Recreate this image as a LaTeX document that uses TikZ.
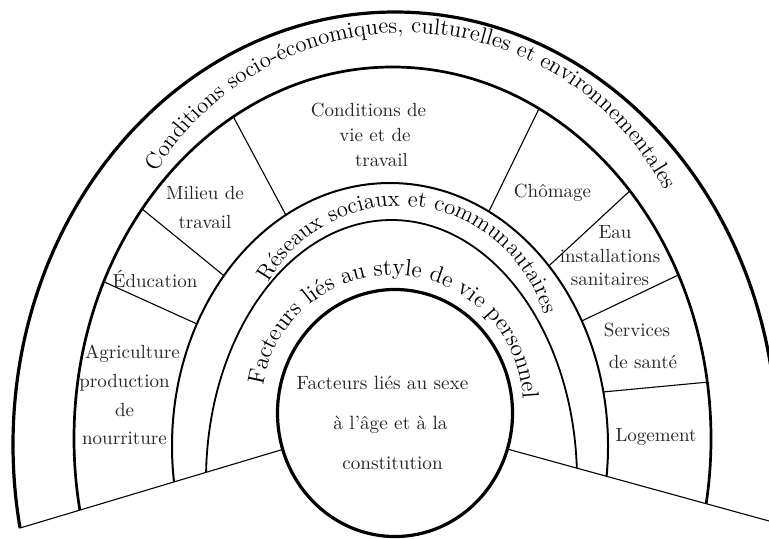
\documentclass[tikz,border=0pt]{standalone}
\usepackage{fontspec}
\usetikzlibrary{decorations.text,intersections,calc}
\newcommand\bandfont{\fontsize{11.4}{13}\selectfont}
\newcommand\bandfontb{\fontsize{11.8}{13}\selectfont}
\begin{document}
\begin{tikzpicture}[x=0.5pt,y=0.5pt,
  thinline/.style={line width=0.55pt},
  sector/.style={text=black!85, font=\fontsize{9.5}{14.35}\selectfont, align=center, inner sep=0pt},
  bandtext/.style={decorate, decoration={text along path, text align=center, text={|\bandfont|#1}}},
  bandtextb/.style={decorate, decoration={text along path, text align=center, text={|\bandfontb|#1}}}
]
\useasboundingbox (0,0) rectangle (769,538);
\fill[white] (0,0) rectangle (769,538);

\coordinate (G) at (391,121);
\coordinate (L) at (20,10);
\coordinate (R) at (820,3);
\coordinate (C0) at (391,126);

% ground lines
\draw[thinline] (G) -- (L);
\draw[thinline] (G) -- (R);

% bands
\begin{scope}
  \clip (G) -- (-20,-2) -- (-20,600) -- (820,600) -- (R) -- cycle;
  \draw[line width=1.6pt] (395,93.3) ellipse [x radius=382, y radius=432.7];
  \draw[line width=1.35pt] (392.5,99.3) ellipse [x radius=318.5, y radius=371.7];
  \draw[line width=1pt] (390,92) ellipse [x radius=218, y radius=263];
  \draw[line width=0.9pt] (391.5,58) ellipse [x radius=185.5, y radius=260];
\end{scope}

% sector dividers
\path[name path=etwo] (390,92) ellipse [x radius=218, y radius=263];
\path[name path=ethree] (392.5,99.3) ellipse [x radius=318.5, y radius=371.7];
\foreach \a [count=\i] in {155.6,140.8,118.1,64,42.8,25.5,5.4}{
  \path[name path=ray] (C0) -- ++(\a:420);
  \path[name intersections={of=etwo and ray, by={a\i}}];
  \path[name intersections={of=ethree and ray, by={b\i}}];
  \draw[thinline] (a\i) -- (b\i);
}

% core circle
\draw[line width=1.6pt, fill=white] (395,125) ellipse [x radius=117.5, y radius=123.5];

% curved band labels
\path[bandtext={Conditions socio-économiques, culturelles et environnementales}]
  ($(405.4,213.9)+(152.5:291.3)$) arc[start angle=152.5, end angle=23.4, radius=291.3];
\path[bandtext={Réseaux sociaux et communautaires}]
  ($(399.4,181.8)+(154.5:150.2)$) arc[start angle=154.5, end angle=12, radius=150.2];
\path[bandtextb={Facteurs liés au style de vie personnel}]
  ($(392.4,132.4)+(176:130.6)$) arc[start angle=176, end angle=-2, radius=130.6];

% sector labels
\node[sector] (agri) at (124.5,143) {\hspace*{8pt}Agriculture\\production\\de\\nourriture};
\node[sector] (edu) at (155,259) {Éducation};
\node[sector, font=\fontsize{9.5}{14.5}\selectfont] (milieu) at (205,330.5) {Milieu de\\travail};
\node[sector, font=\fontsize{9.5}{12.5}\selectfont] (cond) at (368.5,403.5) {Conditions de\\\hspace*{6.5pt}vie et de\\\hspace*{13pt}travail};
\node[sector] (chom) at (552.5,345) {Chômage};
\node[sector, font=\fontsize{9.5}{11.75}\selectfont] (eau) at (610,282) {\hspace*{5pt}Eau\\installations\\sanitaires};
\node[sector, font=\fontsize{9.5}{16}\selectfont] (serv) at (643,192) {Services\hspace*{6pt}\\de santé};
\node[sector] (loge) at (656,101) {Logement};
\node[sector, font=\fontsize{9.6}{20}\selectfont] (core) at (382.5,115.5) {Facteurs liés au sexe\\\hspace*{8pt}à l'âge et à la\\\hspace*{10pt}constitution};
\end{tikzpicture}
\end{document}
